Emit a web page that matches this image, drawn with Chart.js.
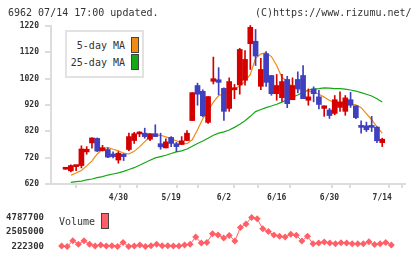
<!DOCTYPE html>
<html>
<head>
<meta charset="utf-8">
<script src="https://cdn.jsdelivr.net/npm/chart.js@4.4.1/dist/chart.umd.min.js"></script>
<style>
  body { margin: 0; background: #fff; }
  #wrap { position: relative; width: 420px; height: 259px; overflow: hidden; font-family: "DejaVu Sans Mono", monospace; color: #333; }
  #price { position: absolute; left: 0; top: 0; }
  #volume { position: absolute; left: 0; top: 205px; }
  .txt { position: absolute; font-size: 10px; line-height: 12px; white-space: nowrap; }
  .box { position: absolute; left: 65px; top: 30px; width: 75px; height: 44px; border: 2px solid #e2e2e2; background: #fff; }
  .sw { position: absolute; width: 6px; height: 14px; border: 1px solid #444; }
</style>
</head>
<body>
<div id="wrap">
  <canvas id="price" width="420" height="205"></canvas>
  <canvas id="volume" width="420" height="54"></canvas>

  <div class="txt" style="left:8px; top:7px;">6962 07/14 17:00 updated.</div>
  <div class="txt" style="left:255px; top:7px;">(C)https://www.rizumu.net/</div>

  <div class="box"></div>
  <div class="txt" style="right:295px; top:40px;">5-day MA</div>
  <div class="sw" style="left:131px; top:37px; background:#f08a12;"></div>
  <div class="txt" style="right:295px; top:57px;">25-day MA</div>
  <div class="sw" style="left:131px; top:54px; background:#14a814;"></div>

  <div class="txt" style="left:59px; top:216px;">Volume</div>
  <div class="sw" style="left:101px; top:213px; background:#ff5f66;"></div>
</div>

<script>
// trading days
const dates = [
  '4/15','4/16','4/17','4/18','4/21','4/22','4/23','4/24','4/25','4/28',
  '4/30','5/2','5/7','5/8','5/9','5/12','5/13','5/14','5/15','5/16',
  '5/19','5/20','5/21','5/22','5/23','5/26','5/27','5/28','5/29','5/30',
  '6/2','6/3','6/4','6/5','6/6','6/9','6/10','6/11','6/12','6/13',
  '6/16','6/17','6/18','6/19','6/20','6/23','6/24','6/25','6/26','6/27',
  '6/30','7/1','7/2','7/3','7/4','7/7','7/8','7/9','7/10','7/11',
  '7/14'
];

const openP = [
  676, 670, 686, 690, 742, 776, 793, 747, 751, 734,
  711, 733, 751, 785, 810, 813, 790, 811, 773, 757,
  797, 773, 770, 785, 861, 994, 972, 854, 1010, 1016,
  983, 907, 978, 996, 1014, 1153, 1162, 991, 1115, 1032,
  963, 948, 1017, 940, 1017, 1032, 938, 981, 951, 907,
  901, 888, 911, 896, 940, 917, 841, 841, 837, 836,
  777
];
const highP = [
  676, 693, 687, 765, 762, 795, 795, 767, 757, 742,
  743, 735, 813, 816, 819, 832, 811, 845, 813, 792,
  800, 778, 800, 823, 967, 1003, 978, 952, 1102, 1062,
  985, 1023, 998, 1135, 1127, 1222, 1207, 1097, 1123, 1032,
  1036, 1036, 1029, 1023, 1046, 1070, 981, 989, 976, 917,
  907, 956, 970, 956, 968, 917, 860, 855, 877, 838,
  794
];
const lowP = [
  676, 666, 671, 681, 733, 756, 743, 745, 720, 719,
  699, 709, 747, 774, 800, 794, 785, 800, 752, 757,
  762, 743, 770, 785, 861, 919, 875, 850, 1000, 959,
  861, 896, 944, 961, 995, 1055, 1070, 978, 991, 957,
  938, 934, 910, 940, 966, 944, 919, 932, 905, 877,
  869, 883, 896, 881, 911, 868, 813, 819, 819, 777,
  762
];
const closeP = [
  676, 690, 687, 753, 752, 795, 745, 758, 722, 724,
  737, 724, 800, 811, 812, 800, 811, 800, 761, 780,
  774, 762, 784, 813, 967, 961, 879, 952, 1020, 1006,
  896, 1009, 980, 1131, 1093, 1215, 1106, 1055, 1006, 963,
  994, 1009, 925, 994, 982, 944, 951, 963, 922, 917,
  880, 940, 932, 947, 919, 872, 835, 826, 835, 784,
  790
];

const ma5 = [
  null, 653, 662, 671, 689, 708, 734, 752, 759, 752,
  746, 737, 734, 744, 761, 781, 801, 807, 805, 799,
  792, 784, 774, 773, 788, 826, 868, 898, 931, 956,
  961, 971, 982, 992, 1010, 1036, 1097, 1114, 1118, 1104,
  1070, 1024, 1010, 986, 979, 975, 973, 969, 961, 950,
  937, 931, 928, 925, 923, 921, 910, 887, 864, 837,
  813
];
const ma25 = [
  null, 626, 629, 631, 636, 639, 644, 648, 654, 658,
  662, 668, 675, 682, 691, 701, 710, 719, 724, 729,
  736, 742, 746, 753, 763, 774, 783, 794, 805, 813,
  818, 825, 835, 847, 860, 877, 895, 903, 910, 916,
  923, 931, 940, 950, 958, 969, 977, 980, 982, 985,
  984, 982, 982, 980, 977, 973, 967, 961, 954, 944,
  931
];
const volume = [
  null, 303000, 222300, 1147000, 604000, 1147000, 604000, 303000, 488000, 303000,
  373000, 222300, 881000, 222300, 303000, 488000, 222300, 373000, 604000, 373000,
  373000, 303000, 303000, 488000, 604000, 1725000, 766000, 881000, 2222000, 2037000,
  1575000, 1956000, 1112000, 3193000, 3771000, 4787700, 4580000, 2996000, 2568000, 2037000,
  1840000, 1725000, 2153000, 1991000, 1112000, 1840000, 650000, 766000, 950000, 766000,
  650000, 835000, 800000, 650000, 650000, 650000, 997000, 534000, 650000, 881000,
  488000
];

const priceTicks = [620, 720, 820, 920, 1020, 1120, 1220];
const volumeTicks = [222300, 2505000, 4787700];
const labelIdx = [10, 20, 30, 40, 50, 60];

const X_MIN = -0.9;
const X_MAX = 62.45;
const UP = '#d40000';
const DOWN = '#3f3fbf';
const AXIS = '#dcdcdc';
const tickFont = { family: 'DejaVu Sans Mono', size: 8, weight: 'bold' };

// 11 even tick marks along the bottom axis, not tied to the date labels
const markVals = [];
for (let k = 0; k <= 11; k++) markVals.push(X_MIN + k * (X_MAX - X_MIN) / 11);

const pts = arr => arr.map((v, i) => ({ x: i, y: v }));
const candleColor = ctx => closeP[ctx.dataIndex] >= openP[ctx.dataIndex] ? UP : DOWN;

new Chart(document.getElementById('price'), {
  type: 'bar',
  data: {
    datasets: [
      {
        label: 'body',
        data: openP.map((o, i) => ({ x: i, y: [o, closeP[i]] })),
        backgroundColor: candleColor,
        barThickness: 5,
        minBarLength: 2,
        grouped: false,
        order: 0,
        clip: false
      },
      {
        label: 'wick',
        data: lowP.map((l, i) => ({ x: i, y: [l, highP[i]] })),
        backgroundColor: candleColor,
        barThickness: 1,
        grouped: false,
        order: 1,
        clip: false
      },
      {
        type: 'line',
        label: '5-day MA',
        data: pts(ma5),
        borderColor: '#f08a12',
        borderWidth: 1.2,
        pointRadius: 0,
        order: 2
      },
      {
        type: 'line',
        label: '25-day MA',
        data: pts(ma25),
        borderColor: '#14a814',
        borderWidth: 1.2,
        pointRadius: 0,
        order: 3
      }
    ]
  },
  options: {
    responsive: false,
    animation: false,
    layout: { padding: { top: 26, right: 15, bottom: 0, left: 0 } },
    plugins: { legend: { display: false }, tooltip: { enabled: false } },
    scales: {
      x: {
        type: 'linear',
        min: X_MIN,
        max: X_MAX,
        afterBuildTicks: s => {
          const all = markVals.concat(labelIdx).sort((a, b) => a - b);
          s.ticks = all.map(v => ({ value: v }));
        },
        afterFit: s => { s.height = 21; },
        grid: {
          drawOnChartArea: false,
          tickLength: 4,
          lineWidth: 2,
          color: ctx => (ctx.tick && labelIdx.includes(ctx.tick.value)) ? 'rgba(0,0,0,0)' : AXIS
        },
        border: { color: AXIS, width: 2 },
        ticks: {
          autoSkip: false,
          maxRotation: 0,
          padding: 5,
          font: tickFont,
          color: '#333',
          callback: v => labelIdx.includes(v) ? dates[v] : ''
        }
      },
      y: {
        min: 620,
        max: 1220,
        afterBuildTicks: s => { s.ticks = priceTicks.map(v => ({ value: v })); },
        afterFit: s => { s.width = 51; },
        grid: { drawOnChartArea: false, tickLength: 6, lineWidth: 2, color: AXIS },
        border: { color: AXIS, width: 2 },
        ticks: { padding: 6, font: tickFont, color: '#333', callback: v => String(v) }
      }
    }
  }
});

new Chart(document.getElementById('volume'), {
  type: 'line',
  data: {
    datasets: [{
      label: 'Volume',
      data: pts(volume),
      borderColor: '#ff5f66',
      backgroundColor: '#ff5f66',
      borderWidth: 1,
      pointStyle: 'rectRot',
      pointRadius: 3.5,
      pointBorderWidth: 0,
      clip: false
    }]
  },
  options: {
    responsive: false,
    animation: false,
    layout: { padding: { top: 4.5, right: 15, bottom: 10, left: 0 } },
    plugins: { legend: { display: false }, tooltip: { enabled: false } },
    scales: {
      x: { type: 'linear', min: X_MIN, max: X_MAX, display: false },
      y: {
        min: 222300,
        max: 4787700,
        afterBuildTicks: s => { s.ticks = volumeTicks.map(v => ({ value: v })); },
        afterFit: s => { s.width = 51; },
        grid: { display: false, drawTicks: false },
        border: { display: false },
        ticks: {
          padding: 7,
          font: { family: 'DejaVu Sans Mono', size: 9, weight: 'bold' },
          color: '#333',
          callback: v => String(v)
        }
      }
    }
  }
});
</script>
</body>
</html>
